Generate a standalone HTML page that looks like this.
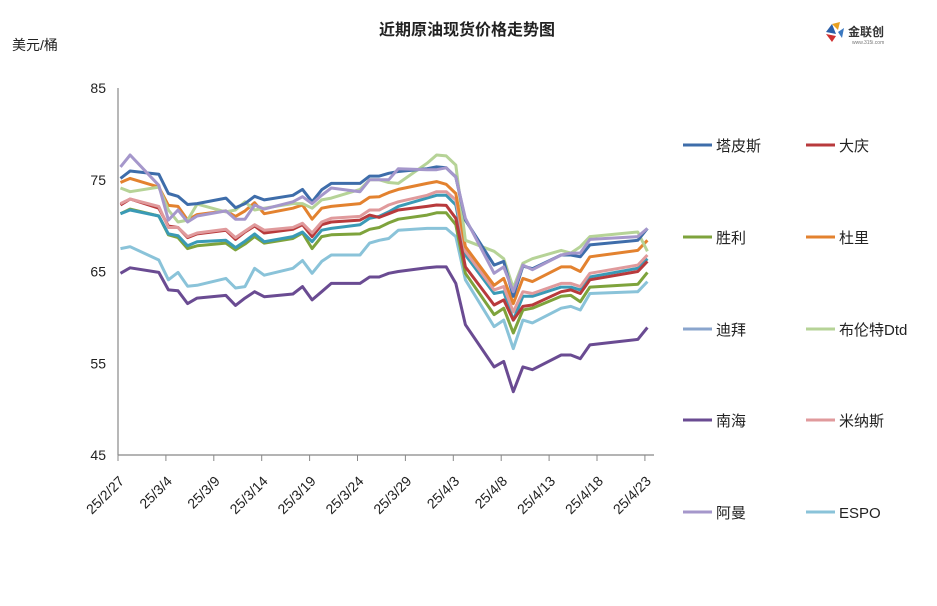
<!DOCTYPE html>
<html><head><meta charset="utf-8">
<style>
html,body{margin:0;padding:0;background:#fff;}
body{width:937px;height:601px;overflow:hidden;font-family:"Liberation Sans","Noto Sans CJK SC",sans-serif;}
svg text{font-family:"Liberation Sans","Noto Sans CJK SC",sans-serif;}
</style></head>
<body>
<svg id="chart" width="937" height="601" viewBox="0 0 937 601" xmlns="http://www.w3.org/2000/svg">
<text x="467" y="35" text-anchor="middle" font-size="16" font-weight="bold" fill="#222">近期原油现货价格走势图</text>
<text x="12" y="50" font-size="14" fill="#222">美元/桶</text>
<g>
<path d="M826 32 l6 -8 l4 10 z" fill="#2a5fa8"/><path d="M832 24 l8 -2 l-2 8 z" fill="#e8a020"/><path d="M826 34 l10 2 l-4 6 z" fill="#d03030"/><path d="M838 32 l6 -4 l-2 10 z" fill="#3a78c0"/>
<text x="848" y="36" font-size="12" font-weight="bold" fill="#333">金联创</text>
<text x="852" y="44" font-size="5" fill="#777">www.315i.com</text>
</g>
<g id="axes"></g>
<g id="series"></g>
<g id="legend"></g>
</svg>
<script>
const days = [0,1,4,5,6,7,8,11,12,13,14,15,18,19,20,21,22,25,26,27,28,29,32,33,34,35,36,39,40,41,42,43,46,47,48,49,54,55];
const tickLabels = ["25/2/27","25/3/4","25/3/9","25/3/14","25/3/19","25/3/24","25/3/29","25/4/3","25/4/8","25/4/13","25/4/18","25/4/23"];
const yTicks = [45,55,65,75,85];
const tapis = [75.15,75.95,75.6,73.5,73.2,72.3,72.4,73.0,71.95,72.4,73.2,72.8,73.3,73.95,72.6,73.9,74.6,74.6,75.4,75.4,75.7,75.9,76.2,76.4,76.3,75.3,70.6,65.7,66.1,62.3,65.6,65.3,66.8,66.8,66.6,67.9,68.4,69.7];
const daqing = [72.25,72.9,71.9,69.95,69.8,68.7,69.1,69.5,68.5,69.3,69.96,69.2,69.6,70.1,68.8,70.1,70.4,70.6,71.15,70.9,71.3,71.7,72.1,72.25,72.2,70.8,65.5,61.35,61.9,59.7,61.2,61.35,62.8,63.0,62.6,64.1,65.0,66.1];
const shengli = [71.3,71.8,71.05,69.0,68.7,67.5,67.8,68.1,67.35,68.0,68.8,68.1,68.6,69.2,67.5,68.8,69.0,69.1,69.6,69.8,70.3,70.7,71.15,71.4,71.4,70.1,64.8,60.3,61.0,58.3,60.8,61.0,62.3,62.4,61.7,63.3,63.6,64.9];
const duri = [74.7,75.15,74.2,72.2,72.1,70.6,71.2,71.6,71.0,71.6,72.5,71.3,71.9,72.25,70.7,71.9,72.1,72.4,73.1,73.15,73.6,73.95,74.6,74.8,74.5,73.5,67.7,63.5,64.25,61.5,64.25,63.9,65.5,65.5,65.0,66.6,67.3,68.4];
const dubai = [71.3,71.7,71.05,69.1,68.9,67.8,68.25,68.4,67.6,68.3,69.1,68.25,68.8,69.3,68.25,69.5,69.7,70.1,70.8,71.0,71.5,72.1,73.0,73.3,73.3,72.25,66.8,62.6,62.8,59.7,62.3,62.3,63.3,63.3,63.0,64.4,65.35,66.4];
const brent = [74.1,73.7,74.2,71.7,70.4,70.6,72.35,71.5,71.7,72.6,71.7,71.9,72.4,72.4,71.9,72.8,73.0,73.95,75.0,75.0,74.7,74.6,76.8,77.7,77.6,76.6,68.4,67.2,66.4,63.2,65.9,66.4,67.3,67.0,67.7,68.8,69.3,67.2];
const nanhai = [64.8,65.4,64.9,63.0,62.9,61.5,62.1,62.4,61.3,62.1,62.8,62.25,62.55,63.35,61.9,62.8,63.7,63.7,64.4,64.4,64.8,65.0,65.4,65.5,65.5,63.7,59.2,54.6,55.2,51.9,54.6,54.3,55.9,55.9,55.5,57.0,57.6,58.9];
const minas = [72.4,72.9,72.1,69.8,69.8,68.8,69.2,69.6,68.7,69.4,70.1,69.5,69.8,70.25,69.2,70.4,70.8,71.0,71.7,71.7,72.25,72.6,73.3,73.7,73.7,72.8,67.2,63.0,63.35,60.6,62.8,62.6,63.7,63.7,63.35,64.8,65.7,66.8];
const oman = [76.4,77.7,74.4,70.6,71.7,70.4,71.05,71.6,70.7,70.7,72.25,71.8,72.6,73.15,72.4,73.3,74.1,73.7,75.0,75.0,75.0,76.2,76.1,76.1,76.3,75.3,70.8,64.8,65.5,62.8,65.7,65.2,66.8,67.0,67.0,68.5,68.8,69.7];
const espo = [67.5,67.7,66.25,64.1,64.9,63.4,63.5,64.25,63.2,63.35,65.35,64.6,65.35,66.2,64.8,66.1,66.8,66.8,68.1,68.4,68.6,69.5,69.7,69.7,69.7,68.8,64.1,59.0,59.7,56.6,59.7,59.4,61.0,61.2,60.8,62.6,62.8,63.9];
const seriesNames = ["塔皮斯","大庆","胜利","杜里","迪拜","布伦特Dtd","南海","米纳斯","阿曼","ESPO"];
const seriesSlugs = ["tapis","daqing","shengli","duri","dubai","brent-dtd","nanhai","minas","oman","espo"];
const seriesData = [tapis,daqing,shengli,duri,dubai,brent,nanhai,minas,oman,espo];
const seriesColors = ["#3e6daa","#b83a3c","#7ea33c","#e3822f","#3a9ab6","#b6d397","#6a4b92","#e09a9c","#a597cb","#8ac3d9"];
const legendColors = ["#3e6daa","#b83a3c","#7ea33c","#e3822f","#8aa5cd","#b6d397","#6a4b92","#e09a9c","#a597cb","#8ac3d9"];
const drawOrder = [6,9,2,4,1,7,3,5,0,8];

const NS = "http://www.w3.org/2000/svg";
const X0 = 118, PX_PER_DAY = 9.58, PT_OFF = 2.5;
const Y_TOP = 88, Y_BOT = 455, V_MIN = 45, V_MAX = 85;
function xTick(i){ return X0 + i*5*PX_PER_DAY; }
function xDay(d){ return X0 + PT_OFF + d*PX_PER_DAY; }
function yVal(v){ return Y_BOT - (v - V_MIN)/(V_MAX - V_MIN)*(Y_BOT - Y_TOP); }
function mk(tag, attrs, parent){ const e=document.createElementNS(NS,tag); for(const k in attrs) e.setAttribute(k,attrs[k]); parent.appendChild(e); return e; }

const axes = document.getElementById("axes");
const yAxis = mk("line",{x1:X0,y1:Y_TOP,x2:X0,y2:Y_BOT,stroke:"#888","stroke-width":1.2},axes);


const xAxis = mk("line",{x1:X0,y1:Y_BOT,x2:654,y2:Y_BOT,stroke:"#888","stroke-width":1.2},axes);


yTicks.forEach(v=>{
  const t = mk("text",{x:106,y:yVal(v)+5,"text-anchor":"end","font-size":14,fill:"#222"},axes);
  t.textContent = v;
  
  
});
tickLabels.forEach((lab,i)=>{
  const x = xTick(i);
  const tk = mk("line",{x1:x,y1:Y_BOT,x2:x,y2:Y_BOT+6,stroke:"#888","stroke-width":1},axes);
  
  
  const ax = x+7, ay = Y_BOT+27;
  const t = mk("text",{x:ax,y:ay,"text-anchor":"end","font-size":14,fill:"#222",transform:`rotate(-45 ${ax} ${ay})`},axes);
  t.textContent = lab;
  
  
});

const sg = document.getElementById("series");
drawOrder.forEach(si=>{
  const vals = seriesData[si];
  const pts = vals.map((v,i)=>xDay(days[i]).toFixed(1)+","+yVal(v).toFixed(1)).join(" ");
  const pl = mk("polyline",{points:pts,fill:"none",stroke:seriesColors[si],"stroke-width":3,"stroke-linejoin":"round"},sg);
  
  
});

const lg = document.getElementById("legend");
const legendRows = [145,237,329,420,512];
seriesNames.forEach((nm,i)=>{
  const col = i%2, row = Math.floor(i/2);
  const lx = col===0 ? 683 : 806;
  const y = legendRows[row];
  const g = mk("g",{},lg);
  
  
  mk("line",{x1:lx,y1:y,x2:lx+29,y2:y,stroke:legendColors[i],"stroke-width":3},g);
  const t = mk("text",{x:lx+33,y:y+6,"font-size":15,fill:"#222"},g);
  t.textContent = nm;
});
</script>
</body></html>
